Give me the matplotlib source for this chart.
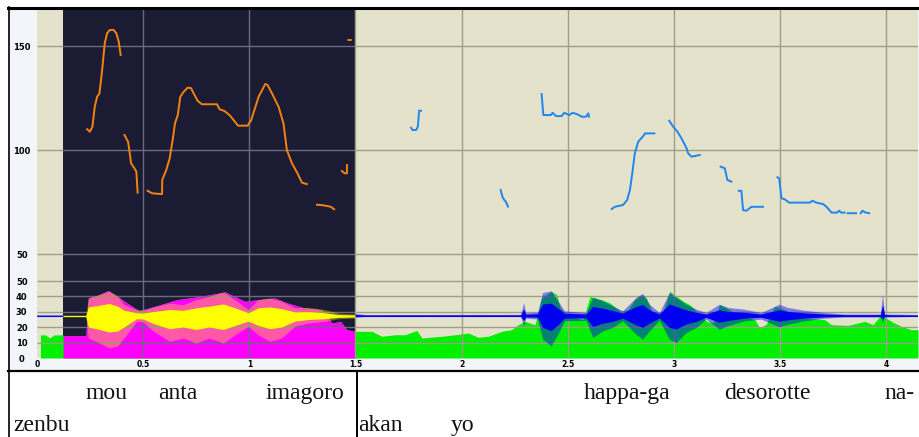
import numpy as np
import matplotlib.pyplot as plt
from matplotlib.lines import Line2D
from matplotlib.patches import Rectangle

# time axis (s) and the selected (dark) stretch
sel_start = 0.123
sel_end = 1.5
t_end = 4.15

# pitch contour (Hz); None splits the voiced stretches
pitch_t = [0.236, 0.249, 0.261, 0.272, 0.283, 0.294, 0.307, 0.319, 0.330, 0.343, 0.361, 0.374, 0.385, 0.394, None,
           0.412, 0.429, 0.437, 0.443, 0.459, 0.468, 0.474, None,
           0.521, 0.542, 0.589, 0.590, 0.609, 0.625, 0.639, 0.650, 0.663, 0.675, 0.691, 0.710, 0.726, 0.738,
           0.757, 0.777, 0.848, 0.860, 0.882, 0.907, 0.926, 0.947, 0.992, 1.009, 1.024, 1.044, 1.060, 1.075,
           1.086, 1.107, 1.138, 1.161, 1.177, 1.201, 1.227, 1.248, 1.271, None,
           1.319, 1.350, 1.384, 1.400, None,
           1.436, 1.449, 1.460, 1.460, None,
           1.467, 1.478, None,
           1.762, 1.769, 1.786, 1.794, 1.800, 1.809, None,
           2.184, 2.192, 2.201, 2.208, 2.219, None,
           2.377, 2.385, 2.420, 2.429, 2.445, 2.471, 2.484, 2.507, 2.523, 2.547, 2.566, 2.586, 2.597, 2.600, None,
           2.707, 2.722, 2.761, 2.780, 2.793, 2.804, 2.816, 2.832, 2.856, 2.864, 2.908, None,
           2.978, 2.997, 3.017, 3.036, 3.060, 3.067, 3.083, 3.107, 3.122, None,
           3.220, 3.240, 3.252, 3.271, None,
           3.306, 3.318, 3.326, 3.342, 3.365, 3.420, None,
           3.488, 3.496, 3.507, 3.522, 3.543, 3.640, 3.653, 3.671, 3.703, 3.719, 3.743, 3.769, 3.778, 3.789,
           3.805, None,
           3.819, 3.858, None,
           3.880, 3.888, 3.901, 3.920]
pitch_hz = [110.0, 108.8, 111.2, 120.8, 125.6, 127.2, 138.5, 151.3, 156.1, 157.7, 157.7, 156.1, 152.1, 145.7, None,
            107.2, 104.0, 98.4, 93.6, 91.2, 89.6, 79.5, None,
            80.4, 79.2, 78.8, 85.6, 90.4, 96.0, 104.8, 112.8, 116.8, 125.6, 128.0, 130.0, 129.7, 127.2,
            123.6, 122.0, 122.0, 119.6, 118.8, 116.8, 114.4, 111.7, 111.7, 114.4, 119.2, 125.6, 128.8, 131.7,
            131.3, 127.2, 120.8, 112.8, 100.0, 93.6, 88.8, 84.3, 83.6, None,
            73.7, 73.4, 72.7, 71.5, None,
            89.9, 88.8, 88.8, 92.8, None,
            152.9, 152.9, None,
            110.7, 109.6, 109.6, 111.2, 118.9, 118.9, None,
            80.8, 77.6, 76.0, 75.2, 72.8, None,
            126.9, 116.8, 116.8, 117.9, 116.3, 116.3, 117.9, 116.8, 117.9, 117.1, 116.0, 116.0, 117.6, 116.0, None,
            71.6, 72.7, 73.6, 76.0, 80.8, 88.8, 98.4, 104.0, 106.7, 108.0, 108.0, None,
            114.1, 111.2, 108.8, 105.6, 100.8, 98.4, 96.8, 97.3, 97.6, None,
            92.0, 91.2, 85.6, 84.8, None,
            80.4, 80.4, 71.1, 70.8, 72.7, 72.7, None,
            86.9, 86.4, 76.8, 76.3, 74.7, 74.7, 75.6, 74.7, 74.0, 72.7, 69.9, 69.9, 70.8, 69.9,
            69.9, None,
            69.6, 69.6, None,
            69.6, 70.8, 70.0, 69.6]

# intensity (dB)
int_t = [0.016, 0.04, 0.06, 0.08, 0.12, 0.123, 0.23, 0.242, 0.29, 0.335, 0.37, 0.41, 0.48, 0.58, 0.66,
         0.77, 0.886, 0.98, 1.04, 1.12, 1.18, 1.26, 1.34, 1.39, 1.43, 1.46, 1.50,
         1.514, 1.577, 1.624, 1.687, 1.734, 1.789, 1.813, 1.907, 1.969, 2.032, 2.079, 2.126, 2.189, 2.236,
         2.267, 2.299, 2.346, 2.377, 2.424, 2.448, 2.464, 2.487, 2.542, 2.573, 2.605, 2.66, 2.699, 2.746,
         2.785, 2.816, 2.848, 2.871, 2.902, 2.95, 2.981, 3.013, 3.044, 3.075, 3.107, 3.154, 3.185, 3.216,
         3.248, 3.302, 3.381, 3.405, 3.436, 3.475, 3.522, 3.601, 3.711, 3.742, 3.82, 3.899, 3.938, 3.977,
         4.024, 4.071, 4.118, 4.15]
int_db = [15.0, 15.0, 13.0, 15.0, 15.0, 14.5, 14.5, 39.0, 41.0, 43.7, 41.0, 37.0, 30.7, 34.6, 37.9,
          40.0, 42.9, 36.8, 37.9, 39.0, 35.7, 32.5, 31.4, 22.7, 23.8, 18.4, 17.3,
          17.3, 17.3, 14.1, 15.1, 15.1, 17.9, 13.0, 14.1, 15.1, 16.2, 13.4, 14.1, 17.3, 18.4,
          21.6, 23.8, 21.6, 39.0, 43.3, 41.1, 32.5, 29.2, 26.0, 24.9, 40.0, 37.9, 35.7, 30.3,
          31.4, 37.9, 41.1, 39.0, 28.1, 30.3, 43.3, 40.0, 36.8, 34.6, 30.3, 23.8, 22.7, 34.6,
          32.5, 28.1, 24.9, 19.5, 22.1, 33.6, 31.4, 26.0, 24.9, 21.6, 21.2, 23.8, 21.6, 28.1,
          23.8, 20.6, 18.4, 18.4]

# waveform envelope, drawn on the intensity scale around its centre
wave_mid = 27.3
wave_t = [0.0, 0.123, 0.23, 0.242, 0.29, 0.34, 0.38, 0.41, 0.47, 0.50, 0.547, 0.625, 0.688, 0.75, 0.81,
          0.878, 0.933, 0.995, 1.042, 1.097, 1.152, 1.215, 1.278, 1.356, 1.419, 1.5,
          1.55, 2.28, 2.295, 2.305, 2.36, 2.384, 2.424, 2.456, 2.487, 2.589, 2.62, 2.667, 2.714, 2.761,
          2.824, 2.855, 2.887, 2.934, 2.981, 3.013, 3.06, 3.107, 3.154, 3.216, 3.256, 3.334, 3.413, 3.499,
          3.538, 3.616, 3.711, 3.805, 3.975, 3.985, 3.995, 4.15]
wave_hi = [27.9, 27.9, 27.9, 39.0, 41.0, 43.5, 40.0, 34.6, 31.4, 31.0, 33.0, 35.7, 34.6, 37.9, 40.0,
           42.9, 37.9, 31.4, 37.9, 39.0, 36.8, 32.5, 32.9, 31.4, 29.2, 28.6,
           27.9, 28.0, 35.7, 29.0, 29.5, 42.2, 43.3, 36.8, 30.3, 29.2, 39.0, 36.8, 33.6, 30.3,
           39.0, 41.6, 34.6, 29.2, 42.2, 39.0, 34.6, 31.4, 29.2, 34.6, 32.5, 31.4, 29.2, 34.6,
           32.5, 30.7, 29.2, 28.3, 28.3, 41.1, 28.3, 27.9]
wave_lo = [26.7, 26.7, 26.7, 13.0, 10.0, 6.5, 7.8, 13.0, 23.8, 23.4, 17.5, 10.8, 13.0, 9.7, 13.0,
           9.7, 15.1, 20.6, 15.1, 10.8, 13.0, 20.6, 22.7, 23.8, 25.5, 26.0,
           26.7, 26.6, 20.6, 25.5, 25.0, 11.9, 7.6, 15.1, 23.8, 24.2, 13.0, 17.3, 19.5, 23.8,
           15.1, 11.9, 17.3, 24.2, 11.9, 9.7, 16.2, 19.5, 24.9, 18.4, 20.6, 23.8, 24.9, 19.9,
           21.6, 23.8, 25.5, 26.3, 26.3, 22.7, 26.3, 26.7]

x_ticks = [0, 0.5, 1, 1.5, 2, 2.5, 3, 3.5, 4]
x_labels = ["0", "0.5", "1", "1.5", "2", "2.5", "3", "3.5", "4"]
pitch_ticks = [50, 100, 150]
int_ticks = [0, 10, 20, 30, 40, 50]

# colours
dark_bg = '#1b1c34'
beige_bg = '#e5e2cc'
dark_grid = '#6a6b7e'
beige_grid = '#a19e88'

W, H = 920, 437
fig = plt.figure(figsize=(W / 100, H / 100), dpi=100)
fig.patch.set_facecolor('white')
fig.add_artist(Rectangle((8 / W, 1 - 371 / H), 912 / W, 364 / H, transform=fig.transFigure,
                         facecolor='#f2f5fa', edgecolor='none', zorder=0))

ax_p = fig.add_axes([37 / W, 1 - 267 / H, 881 / W, 258 / H])
ax_i = fig.add_axes([37 / W, 1 - 358 / H, 881 / W, 91 / H], sharex=ax_p)

p_t = np.array(pitch_t, dtype=float)
p_hz = np.array(pitch_hz, dtype=float)
i_t = np.array(int_t)
i_db = np.array(int_db)
w_t = np.array(wave_t)
w_hi = np.array(wave_hi)
w_lo = np.array(wave_lo)
in_sel = lambda t: (t >= sel_start) & (t <= sel_end)


def background(ax, hlines):
    ax.set_xlim(0, t_end)
    ax.axvspan(0, sel_start, color=beige_bg, lw=0, zorder=0)
    ax.axvspan(sel_start, sel_end, color=dark_bg, lw=0, zorder=0)
    ax.axvspan(sel_end, t_end, color=beige_bg, lw=0, zorder=0)
    for y in hlines:
        ax.hlines(y, 0, sel_start, color=beige_grid, lw=1, zorder=2.5)
        ax.hlines(y, sel_start, sel_end, color=dark_grid, lw=1, zorder=2.5)
        ax.hlines(y, sel_end, t_end, color=beige_grid, lw=1, zorder=2.5)
    for x in x_ticks[1:]:
        c = dark_grid if sel_start < x < sel_end else beige_grid
        ax.axvline(x, color=c, lw=1, zorder=2.5)
    for s in ax.spines.values():
        s.set_visible(False)
    ax.tick_params(axis='both', length=0, labelsize=6)
    for lab in ax.get_yticklabels():
        lab.set_fontweight('bold')


# pitch panel
ax_p.set_ylim(43.75, 167.8)
ax_p.set_yticks(pitch_ticks)
background(ax_p, pitch_ticks)
sel_p = in_sel(np.nan_to_num(p_t))
ax_p.plot(p_t, np.where(sel_p, p_hz, np.nan), color='#f7820f', lw=1.4, zorder=4)
ax_p.plot(p_t, np.where(~sel_p, p_hz, np.nan), color='#1e86f0', lw=1.4, zorder=4)
ax_p.tick_params(axis='x', labelbottom=False)

# intensity + waveform panel
ax_i.set_ylim(0, 59.1)
ax_i.set_yticks(int_ticks)
background(ax_i, int_ticks[1:])
ax_i.fill_between(i_t, 0, i_db, color='#00f000', lw=0, zorder=1)
ax_i.fill_between(i_t, 0, i_db, where=in_sel(i_t), color='#ff00ff', lw=0, zorder=1.5)

core_hi = wave_mid + 0.5 * (w_hi - wave_mid)
core_lo = wave_mid + 0.5 * (w_lo - wave_mid)
sel_w = in_sel(w_t)
rest_w = ~sel_w | (w_t == sel_start) | (w_t == sel_end)
ax_i.fill_between(w_t, w_lo, w_hi, where=sel_w, color='#ffff00', alpha=0.35, lw=0, zorder=3)
ax_i.fill_between(w_t, core_lo, core_hi, where=sel_w, color='#ffff00', lw=0, zorder=3.2)
ax_i.fill_between(w_t, w_lo, w_hi, where=rest_w, color='#0000ff', alpha=0.45, lw=0, zorder=3)
ax_i.fill_between(w_t, core_lo, core_hi, where=rest_w, color='#0000f0', lw=0, zorder=3.2)
ax_i.hlines(wave_mid, 0, sel_start, color='#0000ff', lw=0.8, zorder=3.1)
ax_i.hlines(wave_mid, sel_end, t_end, color='#0000ff', lw=0.8, zorder=3.1)
ax_i.hlines(wave_mid, sel_start, sel_end, color='#ffff00', lw=0.8, zorder=3.1)

ax_i.set_xticks(x_ticks)
ax_i.set_xticklabels(x_labels, fontsize=5.5, fontweight='bold')
ax_i.tick_params(axis='x', pad=1.5)
for ax in (ax_p, ax_i):
    for lab in ax.get_yticklabels():
        lab.set_horizontalalignment('center')
    ax.tick_params(axis='y', pad=11)


# frame and transcription table
def hline(y, x0, x1, lw):
    fig.add_artist(Line2D([x0 / W, x1 / W], [1 - y / H, 1 - y / H], color='black', lw=lw))


def vline(x, y0, y1, lw):
    fig.add_artist(Line2D([x / W, x / W], [1 - y0 / H, 1 - y1 / H], color='black', lw=lw))


hline(7.5, 8, 920, 2.2)
hline(371, 8, 920, 1.6)
vline(8.5, 7, 437, 1.2)
vline(357, 371, 437, 1.4)

words = [("mou", 107, 399), ("anta", 178, 399), ("imagoro", 305, 399), ("zenbu", 42, 431),
         ("happa-ga", 627, 399), ("desorotte", 767, 399), ("na-", 899, 399),
         ("akan", 380, 431), ("yo", 463, 431)]
for w, x, y in words:
    fig.text(x / W, 1 - y / H, w, ha='center', va='baseline', fontsize=17,
             family='Liberation Serif', color='#111111')

fig.savefig('out.png', dpi=100, facecolor=fig.get_facecolor())
